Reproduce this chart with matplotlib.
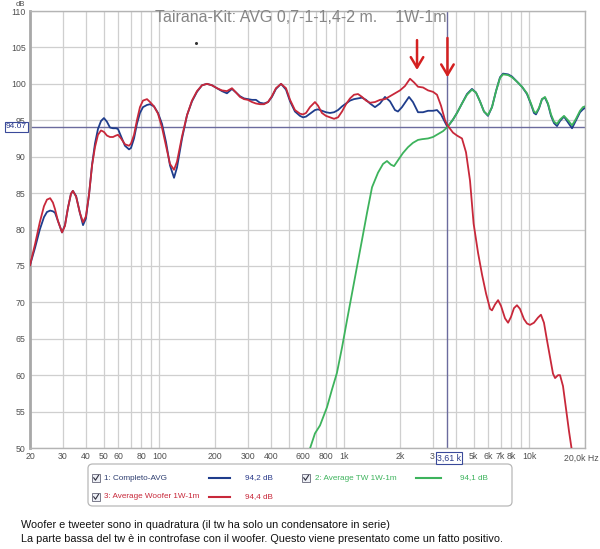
import matplotlib
matplotlib.use("Agg")
import matplotlib.pyplot as plt
from matplotlib.patches import FancyBboxPatch, Rectangle
from matplotlib.lines import Line2D

plt.rcParams['font.family'] = ['Liberation Sans', 'DejaVu Sans']

# ---------------- data ----------------
blue_freq = [20, 21.3, 22.6, 23.8, 24.7, 25.7, 26.6, 27.3, 28.3, 29.8, 30.9, 32.1, 33.3, 34.1, 35.5,
             37.2, 38.7, 40.1, 41.7, 43.3, 44.9, 46.6, 48.4, 50.2, 52.1, 54.1, 56.2, 58.3, 59.8, 62.1,
             65.2, 68.6, 70.3, 73.0, 75.7, 78.6, 81.6, 85.8, 89.1, 93.6, 98.4, 103.4, 108.7, 114.2,
             120.1, 124.6, 132.7, 141.2, 150.2, 159.8, 170.1, 181, 192.6, 205, 218, 232, 247, 260,
             273, 287, 301, 317, 333, 350, 368, 387, 406, 427, 455, 484, 509, 541, 576, 598, 621,
             652, 694, 721, 757, 796, 837, 880, 925, 972, 1021, 1074, 1128, 1186, 1247, 1310, 1377,
             1465, 1559, 1659, 1766, 1879, 1950, 2050, 2156, 2237, 2350, 2503, 2664, 2835, 3017,
             3170, 3332, 3503, 3610, 3868, 4065, 4326, 4604, 4898, 5151, 5411, 5688, 5979, 6285,
             6607, 6944, 7215, 7678, 8064, 8576, 9128, 9714, 10209, 10597, 10866, 11278, 11710,
             12155, 12619, 13100, 13600, 14120, 14660, 15400, 16190, 17020, 17880, 18800, 19500, 20000]
blue_db = [75.1, 77.5, 80.0, 81.7, 82.4, 82.6, 82.5, 82.3, 81.2, 79.6, 80.6, 83.0, 84.9, 85.3, 84.6,
           82.3, 80.6, 81.5, 84.8, 88.9, 91.8, 93.8, 94.9, 95.3, 94.8, 94.0, 93.9, 93.9, 93.8, 92.8,
           91.5, 91.0, 91.2, 92.5, 94.5, 96.0, 96.8, 97.1, 97.2, 96.9, 96.0, 94.5, 92.0, 88.8,
           87.1, 88.5, 92.5, 95.7, 97.6, 98.9, 99.8, 100.0, 99.8, 99.4, 99.0, 98.7, 99.3, 98.8,
           98.3, 98.0, 97.9, 97.8, 97.8, 97.4, 97.3, 97.5, 98.2, 99.3, 100.0, 99.2, 97.6, 96.2,
           95.6, 95.4, 95.5, 95.9, 96.4, 96.5, 96.3, 96.1, 96.0, 96.1, 96.4, 96.9, 97.3, 97.7,
           97.9, 98.0, 98.1, 97.8, 97.3, 96.8, 97.3, 98.2, 97.6, 96.4, 96.2, 96.8, 97.6, 98.2,
           97.5, 96.1, 96.1, 96.3, 96.3, 96.4, 95.8, 94.7, 94.07, 95.1, 96.0, 97.3, 98.6, 99.3,
           98.8, 97.6, 96.2, 95.6, 96.8, 99.0, 100.9, 101.4, 101.3, 101.0, 100.3, 99.6, 98.6,
           97.2, 96.0, 95.8, 96.6, 97.9, 98.1, 97.2, 95.6, 94.6, 94.2, 94.9, 95.5, 94.7, 93.9,
           95.0, 96.1, 96.5, 96.7]

red_freq = [20, 21.3, 22.6, 23.8, 24.7, 25.7, 26.6, 27.3, 28.3, 29.8, 30.9, 32.1, 33.3, 34.1, 35.5,
            37.2, 38.7, 40.1, 41.7, 43.3, 44.9, 46.6, 48.4, 50.2, 52.1, 54.1, 56.2, 58.3, 59.8, 62.1,
            65.2, 68.6, 70.3, 73.0, 75.7, 78.6, 81.6, 85.8, 89.1, 93.6, 98.4, 103.4, 108.7, 114.2,
            120.1, 124.6, 132.7, 141.2, 150.2, 159.8, 170.1, 181, 192.6, 205, 218, 232, 247, 260,
            273, 287, 301, 317, 333, 350, 368, 387, 406, 427, 455, 484, 509, 541, 576, 598, 621,
            652, 694, 721, 757, 796, 837, 880, 925, 972, 1021, 1074, 1128, 1186, 1247, 1310, 1377,
            1465, 1559, 1659, 1766, 1879, 2000, 2128, 2265, 2381, 2503, 2664, 2835, 3017, 3170,
            3332, 3503, 3610, 3868, 4065, 4326, 4548, 4781, 5000, 5283, 5553, 5837, 6136, 6285,
            6524, 6780, 7033, 7391, 7678, 7962, 8262, 8576, 8903, 9357, 9714, 10084, 10597, 11139,
            11560, 12000, 12460, 12940, 13430, 13780, 14300, 14660, 15210, 15780, 16390, 17020, 17440]
red_db = [75.1, 78.0, 81.0, 83.2, 84.1, 84.3, 83.7, 82.8, 81.2, 79.6, 80.5, 83.0, 84.9, 85.3, 84.5,
          82.3, 81.0, 81.8, 84.8, 88.8, 91.3, 93.0, 93.6, 93.4, 92.9, 92.7, 92.7, 92.9, 93.0, 92.5,
          91.7, 91.5, 91.8, 93.0, 95.0, 96.8, 97.7, 97.9, 97.5, 96.9, 95.9, 94.0, 91.5, 89.0,
          88.2, 89.3, 92.8, 95.7, 97.7, 99.0, 99.8, 100.0, 99.8, 99.4, 99.1, 99.0, 99.4, 98.8,
          98.2, 97.9, 97.8, 97.5, 97.3, 97.2, 97.2, 97.5, 98.3, 99.4, 100.0, 99.4, 97.8, 96.4,
          95.9, 95.8, 96.0, 96.8, 97.5, 97.0, 96.0, 95.6, 95.4, 95.2, 95.4, 96.2, 97.2, 98.0,
          98.5, 98.6, 98.2, 97.7, 97.4, 97.5, 97.8, 97.9, 98.3, 98.7, 99.1, 99.7, 100.7, 100.2,
          99.6, 99.5, 99.1, 98.9, 98.5, 97.0, 95.0, 94.3, 93.3, 92.9, 92.5, 90.6, 86.7, 80.8,
          76.8, 73.8, 71.2, 69.1, 68.9, 69.7, 70.3, 69.5, 67.8, 67.2, 68.0, 69.2, 69.6, 69.1,
          67.7, 67.1, 66.9, 67.2, 67.9, 68.3, 67.2, 64.8, 62.5, 60.2, 59.6, 60.0, 60.0, 58.5,
          55.5, 52.3, 49.5, 47.5]

green_freq = [644, 694, 739, 806, 857, 912, 972, 1035, 1100, 1171, 1247, 1327, 1412, 1521, 1619,
              1701, 1787, 1857, 1950, 2075, 2209, 2350, 2503, 2630, 2835, 3017, 3210, 3415, 3610,
              3868, 4065, 4326, 4604, 4898, 5151, 5411, 5688, 5979, 6285, 6607, 6944, 7215, 7678,
              8064, 8576, 9128, 9714, 10209, 10597, 10866, 11278, 11710, 12155, 12619, 13100,
              13600, 14120, 14660, 15400, 16190, 17020, 17880, 18800, 19500, 20000]
green_db = [49.5, 52.0, 53.1, 55.6, 58.0, 60.3, 63.8, 67.6, 71.2, 74.9, 78.6, 82.3, 85.8, 87.8, 89.0,
            89.4, 88.9, 88.7, 89.5, 90.5, 91.3, 91.9, 92.3, 92.4, 92.5, 92.7, 93.1, 93.5, 94.07,
            95.1, 96.0, 97.3, 98.5, 99.2, 98.8, 97.6, 96.2, 95.7, 96.8, 99.0, 100.8, 101.3, 101.2,
            100.9, 100.3, 99.6, 98.7, 97.3, 96.2, 96.0, 96.7, 97.9, 98.2, 97.3, 95.8, 94.8, 94.5,
            95.1, 95.6, 95.0, 94.3, 95.2, 96.3, 96.8, 96.9]

xtick_vals = [20, 30, 40, 50, 60, 80, 100, 200, 300, 400, 600, 800, 1000, 2000, 3000, 5000, 6000,
              7000, 8000, 10000]
xtick_labels = ['20', '30', '40', '50', '60', '80', '100', '200', '300', '400', '600', '800', '1k',
                '2k', '3', '5k', '6k', '7k', '8k', '10k']
last_xlabel = '20,0k Hz'
ytick_vals = [50, 55, 60, 65, 70, 75, 80, 85, 90, 95, 100, 105, 110]

series_names = ['1: Completo-AVG', '2: Average TW 1W-1m', '3: Average Woofer 1W-1m']
series_levels = ['94,2 dB', '94,1 dB', '94,4 dB']
cursor_db = 94.07
cursor_freq = 3610

# ---------------- figure ----------------
W, H = 600, 549
fig = plt.figure(figsize=(W / 100, H / 100), dpi=100)
fig.patch.set_facecolor('white')


def fx(px):
    return px / W


def fy(py):
    return 1 - py / H


ax = fig.add_axes([fx(30), fy(448), (585 - 30) / W, (448 - 11) / H])
ax.set_xscale('log')
ax.set_xlim(20, 20000)
ax.set_ylim(50, 110)

grid_c = '#cfcfcf'
grid_f = [20, 30, 40, 50, 60, 70, 80, 90, 100, 200, 300, 400, 500, 600, 700, 800, 900, 1000,
          2000, 3000, 4000, 5000, 6000, 7000, 8000, 9000, 10000, 20000]
for g in grid_f:
    ax.axvline(g, color=grid_c, lw=0.9, zorder=0)
for y in ytick_vals:
    ax.axhline(y, color=grid_c, lw=0.9, zorder=0)

blue_c = '#1f3d8c'
red_c = '#c8283a'
green_c = '#3db35c'
cur_c = '#6b6b9e'

ax.axhline(cursor_db, color=cur_c, lw=1.0, zorder=1)
ax.axvline(cursor_freq, color=cur_c, lw=1.0, zorder=1)

ax.plot(blue_freq, blue_db, color=blue_c, lw=1.3, zorder=3, solid_joinstyle='round')
ax.plot(green_freq, green_db, color=green_c, lw=1.3, zorder=4, solid_joinstyle='round')
ax.plot(red_freq, red_db, color=red_c, lw=1.3, zorder=5, solid_joinstyle='round')

ax.set_xticks(xtick_vals)
ax.set_xticklabels(xtick_labels)
ax.xaxis.set_minor_locator(matplotlib.ticker.NullLocator())
ax.set_yticks(ytick_vals)
ax.set_yticklabels([str(v) for v in ytick_vals])
ax.tick_params(axis='both', length=0, labelsize=6.3, labelcolor='#505050')
ax.tick_params(axis='x', pad=3)
ax.tick_params(axis='y', pad=3)

for s in ax.spines.values():
    s.set_color('#b4b4b4')
    s.set_linewidth(1.0)
ax.spines['left'].set_linewidth(2.0)
ax.spines['left'].set_color('#a8a8a8')

# arrows
arrow_c = '#d42020'
for xf, y0, y1 in [(2472, 106.0, 101.9), (3610, 106.3, 100.9)]:
    ax.annotate('', xy=(xf, y1), xytext=(xf, y0),
                arrowprops=dict(arrowstyle='->,head_length=0.75,head_width=0.45', color=arrow_c,
                                lw=1.8, shrinkA=0, shrinkB=0), zorder=6)

ax.plot([158], [105.6], marker='o', ms=1.2, color='#333333', zorder=6)

# title
fig.text(fx(301), fy(17), 'Tairana-Kit: AVG 0,7-1-1,4-2 m.    1W-1m', ha='center', va='center',
         fontsize=11.5, color='#858585')
fig.text(fx(20), fy(4), 'dB', ha='center', va='center', fontsize=5.5, color='#505050')
fig.text(fx(599), fy(458), last_xlabel, ha='right', va='center', fontsize=6.3, color='#505050')

# cursor readouts
fig.text(fx(16.5), fy(127), '94.07', ha='center', va='center', fontsize=6, color='#2a3a8a',
         bbox=dict(boxstyle='square,pad=0.15', fc='white', ec='#3a4a9a', lw=0.8), zorder=10)
fig.text(fx(449), fy(458), '3,61 k', ha='center', va='center', fontsize=6.3, color='#2a3a8a',
         bbox=dict(boxstyle='square,pad=0.15', fc='white', ec='#3a4a9a', lw=0.8), zorder=10)

# legend box
lg = FancyBboxPatch((fx(88), fy(506)), (512 - 88) / W, (506 - 464) / H,
                    boxstyle='round,pad=0,rounding_size=0.008', transform=fig.transFigure,
                    fc='white', ec='#b8b8b8', lw=0.9)
fig.patches.append(lg)


def checkbox(px, py):
    r = Rectangle((fx(px - 4), fy(py + 4)), 8 / W, 8 / H, transform=fig.transFigure,
                  fc='#eef0f6', ec='#7a7a8a', lw=0.7)
    fig.patches.append(r)
    fig.lines.append(Line2D([fx(px - 2.3), fx(px - 0.5), fx(px + 2.5)],
                            [fy(py - 0.2), fy(py + 2.2), fy(py - 2.6)],
                            transform=fig.transFigure, color='#303040', lw=0.8))


legend_rows = [
    (96, 478, 104, 209, 230, 245, series_names[0], series_levels[0], blue_c, '#2e3e70'),
    (306, 478, 315, 416, 441, 460, series_names[1], series_levels[1], green_c, green_c),
    (96, 497, 104, 209, 230, 245, series_names[2], series_levels[2], red_c, red_c),
]
for cbx, yy, tx, l0, l1, vx, name, lev, lc, tc in legend_rows:
    checkbox(cbx, yy)
    fig.text(fx(tx), fy(yy), name, ha='left', va='center', fontsize=5.9, color=tc)
    fig.lines.append(Line2D([fx(l0), fx(l1)], [fy(yy), fy(yy)], transform=fig.transFigure,
                            color=lc, lw=1.5))
    fig.text(fx(vx), fy(yy), lev, ha='left', va='center', fontsize=5.9,
             color=('#2a3a8a' if lc == blue_c else tc))

# bottom notes
fig.text(fx(21), fy(525), 'Woofer e tweeter sono in quadratura (il tw ha solo un condensatore in serie)',
         ha='left', va='center', fontsize=7.85, color='#111111')
fig.text(fx(21), fy(539), 'La parte bassa del tw è in controfase con il woofer. Questo viene presentato come un fatto positivo.',
         ha='left', va='center', fontsize=7.85, color='#111111')

fig.savefig('out.png', dpi=100)
